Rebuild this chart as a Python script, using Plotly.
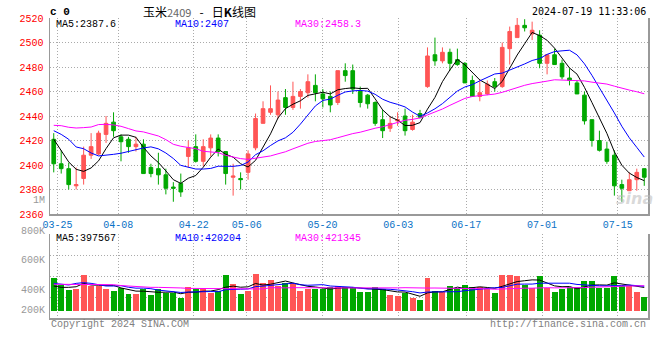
import plotly.graph_objects as go

# ---------------- data ----------------
dates = ["03-22", "03-25", "03-26", "03-27", "03-28", "03-29",
         "04-01", "04-02", "04-03", "04-08", "04-09", "04-10", "04-11", "04-12",
         "04-15", "04-16", "04-17", "04-18", "04-19",
         "04-22", "04-23", "04-24", "04-25", "04-26", "04-29", "04-30",
         "05-06", "05-07", "05-08", "05-09", "05-10",
         "05-13", "05-14", "05-15", "05-16", "05-17",
         "05-20", "05-21", "05-22", "05-23", "05-24",
         "05-27", "05-28", "05-29", "05-30", "05-31",
         "06-03", "06-04", "06-05", "06-06", "06-07",
         "06-11", "06-12", "06-13", "06-14",
         "06-17", "06-18", "06-19", "06-20", "06-21",
         "06-24", "06-25", "06-26", "06-27", "06-28",
         "07-01", "07-02", "07-03", "07-04", "07-05",
         "07-08", "07-09", "07-10", "07-11", "07-12",
         "07-15", "07-16", "07-17", "07-18", "07-19"]
label_dates = ["03-25", "04-08", "04-22", "05-06", "05-20", "06-03", "06-17", "07-01", "07-15"]

open_p = [2421, 2401, 2397, 2383, 2389, 2408, 2409, 2425, 2435, 2423,
          2421, 2415, 2417, 2398, 2397, 2392, 2382, 2385, 2407, 2415,
          2403, 2414, 2422, 2411, 2390, 2389, 2394, 2414, 2434, 2443,
          2441, 2455, 2447, 2456, 2459, 2465, 2458, 2456, 2451, 2477,
          2477, 2460, 2457, 2451, 2437, 2430, 2436, 2440, 2429, 2442,
          2464, 2490, 2485, 2492, 2486, 2483, 2469, 2456, 2458, 2468,
          2464, 2495, 2504, 2514, 2507, 2506, 2483, 2490, 2483, 2471,
          2467, 2457, 2437, 2420, 2413, 2408, 2384, 2379, 2388, 2397]
high_p = [2426, 2412, 2402, 2398, 2415, 2426, 2428, 2440, 2443, 2425,
          2423, 2423, 2421, 2401, 2410, 2397, 2386, 2393, 2420, 2425,
          2421, 2425, 2425, 2411, 2401, 2394, 2412, 2442, 2452, 2465,
          2460, 2462, 2468, 2462, 2474, 2474, 2462, 2460, 2477, 2483,
          2482, 2464, 2458, 2452, 2445, 2440, 2443, 2446, 2441, 2445,
          2496, 2504, 2496, 2495, 2495, 2484, 2473, 2470, 2469, 2471,
          2500, 2513, 2520, 2519, 2517, 2510, 2490, 2495, 2486, 2479,
          2469, 2460, 2437, 2428, 2419, 2412, 2388, 2394, 2397, 2397]
low_p = [2394, 2393, 2380, 2380, 2384, 2405, 2408, 2418, 2423, 2403,
         2410, 2411, 2393, 2390, 2384, 2376, 2370, 2374, 2398, 2402,
         2399, 2407, 2407, 2384, 2375, 2380, 2388, 2412, 2434, 2441,
         2438, 2441, 2445, 2446, 2455, 2452, 2447, 2443, 2449, 2468,
         2458, 2447, 2446, 2432, 2422, 2427, 2432, 2424, 2428, 2438,
         2463, 2481, 2483, 2477, 2481, 2467, 2456, 2452, 2457, 2460,
         2463, 2482, 2504, 2509, 2502, 2479, 2474, 2482, 2470, 2465,
         2458, 2433, 2415, 2411, 2401, 2375, 2370, 2379, 2379, 2383]
close_p = [2401, 2397, 2384, 2384, 2408, 2415, 2426, 2434, 2428, 2419,
           2415, 2417, 2393, 2393, 2392, 2381, 2381, 2378, 2414, 2403,
           2415, 2422, 2411, 2393, 2391, 2388, 2409, 2438, 2446, 2446,
           2453, 2447, 2456, 2460, 2468, 2459, 2454, 2449, 2477, 2473,
           2462, 2451, 2450, 2434, 2428, 2434, 2437, 2428, 2435, 2439,
           2489, 2485, 2492, 2483, 2482, 2467, 2456, 2459, 2466, 2464,
           2496, 2509, 2514, 2512, 2510, 2483, 2490, 2482, 2472, 2469,
           2458, 2436, 2420, 2412, 2403, 2383, 2381, 2388, 2394, 2390]
volume_k = [481, 434, 400, 407, 502, 427, 427, 407, 393, 416,
            373, 373, 405, 366, 405, 377, 377, 348, 418, 405,
            411, 382, 396, 502, 441, 373, 396, 509, 450, 468,
            427, 450, 445, 396, 407, 405, 405, 418, 427, 418,
            418, 386, 386, 418, 405, 366, 359, 382, 348, 332,
            481, 393, 386, 427, 411, 434, 418, 418, 405, 382,
            502, 502, 495, 434, 411, 495, 411, 389, 405, 418,
            418, 463, 463, 411, 411, 495, 427, 427, 386, 352]

# moving-average values before each window is full
ma5_head = [2421, 2412, 2402.5, 2396.5]
ma10_head = [2428, 2425, 2421, 2414.7, 2413.3, 2409.8, 2407.4, 2407.9, 2408.7]
ma30_head = [2432.4, 2432.1, 2430.8, 2430.2, 2430.5, 2431, 2433, 2433.2, 2432.7, 2431.6,
             2429.7, 2427.8, 2427, 2425.6, 2423.7, 2420.7, 2416.9, 2415.3, 2414.2, 2413.3,
             2411.2, 2410.6, 2410.1, 2407.9, 2406.5, 2405.2, 2404.6, 2405.7, 2406.5]
vma5_head_k = [427, 418, 418, 422]
vma10_head_k = [445, 441, 434, 445, 450, 445, 434, 427, 427]
vma30_head_k = [439, 439, 439, 439, 439, 439, 438, 437, 436, 430,
                427, 420, 418, 418, 418, 418, 418, 414, 411, 411,
                411, 411, 409, 408, 407, 407, 407, 407, 407]

price_ma_text = ["MA5:2387.6", "MA10:2407", "MA30:2458.3"]
vol_ma_text = ["MA5:397567", "MA10:420204", "MA30:421345"]
price_ticks = [2360, 2380, 2400, 2420, 2440, 2460, 2480, 2500, 2520]
vol_tick_text = ["800K", "600K", "400K", "200K"]
vol_tick_vals = [800000, 600000, 400000, 264000]
NB = "\u00a0"
title_text = ("玉米<span style='color:#666666;font-size:11px'>2409</span>"
              + NB * 3 + "-" + NB * 3 + "日<b>K</b>线图")
code_text = "c 0"
stamp_text = "2024-07-19 11:33:06"

# ---------------- style ----------------
RED = "#FF5555"
GREEN = "#00A800"
MONO = "Liberation Mono, DejaVu Sans Mono, monospace"
CJK = "Noto Sans CJK SC, sans-serif"
GRID = "#AAAAAA"
FRAME = "#999999"
MA_COLORS = ["#000000", "#0000FF", "#FF00FF"]


def moving_avg(values, n, head):
    out = list(head)
    for i in range(n - 1, len(values)):
        out.append(sum(values[i - n + 1:i + 1]) / n)
    return out


n = len(dates)
xs = list(range(n))
label_idx = [dates.index(d) for d in label_dates]
grid_pos = [i * n / (n - 1) - 0.5 for i in label_idx]

volume = [v * 1000 for v in volume_k]
vol_base = 260000
vol_colors = [RED if c >= o else GREEN for o, c in zip(open_p, close_p)]

price_mas = [moving_avg(close_p, 5, ma5_head),
             moving_avg(close_p, 10, ma10_head),
             moving_avg(close_p, 30, ma30_head)]
vol_mas = [moving_avg(volume, 5, [v * 1000 for v in vma5_head_k]),
           moving_avg(volume, 10, [v * 1000 for v in vma10_head_k]),
           moving_avg(volume, 30, [v * 1000 for v in vma30_head_k])]

fig = go.Figure()
fig.add_trace(go.Candlestick(
    x=xs, open=open_p, high=high_p, low=low_p, close=close_p,
    increasing=dict(line=dict(color=RED, width=1), fillcolor=RED),
    decreasing=dict(line=dict(color=GREEN, width=1), fillcolor=GREEN),
    whiskerwidth=0, hoverinfo="skip", xaxis="x", yaxis="y", showlegend=False))
for ma, col in zip(price_mas, MA_COLORS):
    fig.add_trace(go.Scatter(x=xs, y=ma, mode="lines", line=dict(color=col, width=1),
                             hoverinfo="skip", xaxis="x", yaxis="y", showlegend=False))

fig.add_trace(go.Bar(x=xs, y=[v - vol_base for v in volume], base=vol_base,
                     marker=dict(color=vol_colors, line=dict(width=0)), width=0.8,
                     hoverinfo="skip", xaxis="x2", yaxis="y2", showlegend=False))
for ma, col in zip(vol_mas, MA_COLORS):
    fig.add_trace(go.Scatter(x=xs, y=ma, mode="lines", line=dict(color=col, width=1),
                             hoverinfo="skip", xaxis="x2", yaxis="y2", showlegend=False))

# plot area: x 50..650, y 18..318 (pixels)
L, T, W, H = 50, 18, 600, 300


def px(X):
    return (X - L) / W


def py(Y):
    return (T + H - Y) / H


vmin, vmax = 210000, 778000
annotations = []


def ann(text, X, Y, xanchor, color="#000000", size=10, family=MONO, **kw):
    annotations.append(dict(text=text, x=px(X), y=py(Y), xref="paper", yref="paper",
                            xanchor=xanchor, yanchor="middle", showarrow=False,
                            font=dict(family=family, size=size, color=color), **kw))


ann("<b>" + code_text + "</b>", 48, 12, "left", size=11)
ann(title_text, 200, 12, "center", size=12, family=CJK)
ann(stamp_text, 650, 12, "right", family="DejaVu Sans Mono, monospace")
for t, X, col in zip(price_ma_text, [54, 173, 294], MA_COLORS):
    ann(t, X, 24, "left", color=col)
for t, X, col in zip(vol_ma_text, [54, 173, 294], MA_COLORS):
    ann(t, X, 238, "left", color=col)
ann("1M", 47, 200, "right", color="#999999")
for t, v in zip(vol_tick_text, vol_tick_vals):
    Y = 318 - (v - vmin) / (vmax - vmin) * (318 - 234.3)
    ann(t, 47, Y, "right", color="#999999")
ann("Copyright 2024 SINA.COM", 49, 324, "left", color="#808080")
ann("http://finance.sina.com.cn", 650, 324, "right", color="#808080")
ann("<b><i>sina</i></b>", 636, 198, "center", color="rgba(185,185,185,0.55)", size=16,
    family="DejaVu Sans, sans-serif")

axis_common = dict(showgrid=True, gridcolor=GRID, griddash="1px,2px", gridwidth=1,
                   zeroline=False, showline=True, linecolor=FRAME, linewidth=1.5, ticks="")

fig.update_layout(
    width=660, height=360,
    margin=dict(l=L, r=660 - L - W, t=T, b=360 - T - H),
    paper_bgcolor="white", plot_bgcolor="white",
    showlegend=False, hovermode=False, bargap=0,
    annotations=annotations,
    xaxis=dict(domain=[0, 1], range=[-0.5, n - 0.5], anchor="y",
               tickmode="array", tickvals=grid_pos, ticktext=label_dates,
               tickfont=dict(family=MONO, size=10, color="#0A72C6"),
               rangeslider=dict(visible=False), **axis_common),
    yaxis=dict(domain=[py(214), 1], range=[2360, 2520], anchor="x",
               tickmode="array", tickvals=price_ticks, ticktext=[str(t) for t in price_ticks],
               tickfont=dict(family=MONO, size=10, color="#FF0000"), mirror=True,
               ticklabelstandoff=3, **axis_common),
    xaxis2=dict(domain=[0, 1], range=[-0.5, n - 0.5], anchor="y2", matches="x",
                tickmode="array", tickvals=grid_pos, showticklabels=False, **axis_common),
    yaxis2=dict(domain=[0, py(234.3)], range=[vmin, vmax], anchor="x2",
                tickmode="array",
                tickvals=[vmin + k * (vmax - vmin) / 4 for k in range(1, 5)],
                showticklabels=False, mirror=True, **axis_common),
)

fig.write_html("out.html",
               config={"displayModeBar": False, "staticPlot": True},
               post_script="document.body.style.margin='0';document.body.style.padding='0';")
